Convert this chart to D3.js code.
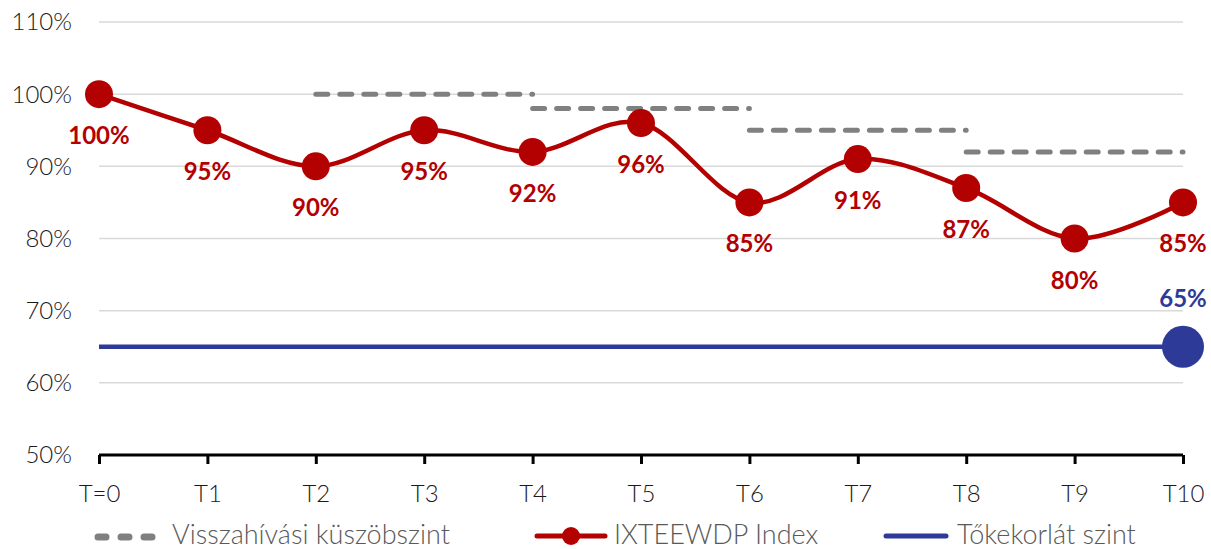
<!DOCTYPE html>
<html>
<head>
<meta charset="utf-8">
<script src="https://cdn.jsdelivr.net/npm/d3@7"></script>
<style>
  body { margin: 0; background: #fff; }
  text { font-family: Lato, "Open Sans", sans-serif; }
</style>
</head>
<body>
<svg width="1211" height="549"></svg>
<script>
// data
var periods = ["T=0", "T1", "T2", "T3", "T4", "T5", "T6", "T7", "T8", "T9", "T10"];
var indexValues = [100, 95, 90, 95, 92, 96, 85, 91, 87, 80, 85];
var callStart = ["T2", "T4", "T6", "T8"];
var callEnd = ["T4", "T6", "T8", "T10"];
var callLevels = [100, 98, 95, 92];
var barrierLevel = 65;
var yTicks = [50, 60, 70, 80, 90, 100, 110];

var red = "#b30000", blue = "#2e3a97", grey = "#808080";

var svg = d3.select("svg");

var x = d3.scalePoint().domain(periods).range([99, 1183]);
var y = d3.scaleLinear().domain([50, 110]).range([455, 22]);

// gridlines
svg.append("g")
  .selectAll("line")
  .data(yTicks.slice(1))
  .join("line")
  .attr("x1", 99).attr("x2", 1183)
  .attr("y1", function(d) { return y(d); })
  .attr("y2", function(d) { return y(d); })
  .attr("stroke", "#d9d9d9")
  .attr("stroke-width", 1.5);

// y labels
svg.append("g")
  .selectAll("text")
  .data(yTicks)
  .join("text")
  .attr("x", 72)
  .attr("y", function(d) { return y(d); })
  .attr("dy", "0.35em")
  .attr("text-anchor", "end")
  .attr("font-size", 24)
  .attr("font-weight", 300)
  .attr("fill", "#1a1a1a")
  .text(function(d) { return d + "%"; });

// x axis
var xAxis = svg.append("g")
  .attr("transform", "translate(0," + y(50) + ")")
  .call(d3.axisBottom(x).tickSize(9));
xAxis.select(".domain").attr("stroke", "#000").attr("stroke-width", 3).attr("d", "M99,0H1183");
xAxis.selectAll(".tick line").attr("stroke", "#000").attr("stroke-width", 3);
xAxis.selectAll(".tick text")
  .attr("y", 47)
  .attr("dy", 0)
  .attr("font-size", 24)
  .attr("font-weight", 300)
  .attr("fill", "#1a1a1a")
  .style("font-family", "Lato, 'Open Sans', sans-serif");

// call threshold dashes
svg.append("g")
  .selectAll("line")
  .data(callLevels)
  .join("line")
  .attr("x1", function(d, i) { return x(callStart[i]); })
  .attr("x2", function(d, i) { return x(callEnd[i]); })
  .attr("y1", function(d) { return y(d); })
  .attr("y2", function(d) { return y(d); })
  .attr("stroke", grey)
  .attr("stroke-width", 5)
  .attr("stroke-linecap", "round")
  .attr("stroke-dasharray", "12,12");

// barrier line
svg.append("line")
  .attr("x1", x("T=0")).attr("x2", x("T10"))
  .attr("y1", y(barrierLevel)).attr("y2", y(barrierLevel))
  .attr("stroke", blue)
  .attr("stroke-width", 4.5);

svg.append("circle")
  .attr("cx", x("T10"))
  .attr("cy", y(barrierLevel))
  .attr("r", 21)
  .attr("fill", blue);

svg.append("text")
  .attr("x", x("T10"))
  .attr("y", y(barrierLevel) - 40)
  .attr("text-anchor", "middle")
  .attr("font-size", 24)
  .attr("font-weight", 700)
  .attr("fill", blue)
  .text(barrierLevel + "%");

// index line
var line = d3.line()
  .x(function(d, i) { return x(periods[i]); })
  .y(function(d) { return y(d); })
  .curve(d3.curveCardinal.tension(0));

svg.append("path")
  .datum(indexValues)
  .attr("fill", "none")
  .attr("stroke", red)
  .attr("stroke-width", 4.5)
  .attr("d", line);

svg.append("g")
  .selectAll("circle")
  .data(indexValues)
  .join("circle")
  .attr("cx", function(d, i) { return x(periods[i]); })
  .attr("cy", function(d) { return y(d); })
  .attr("r", 14)
  .attr("fill", red);

svg.append("g")
  .selectAll("text")
  .data(indexValues)
  .join("text")
  .attr("x", function(d, i) { return x(periods[i]); })
  .attr("y", function(d) { return y(d) + 50; })
  .attr("text-anchor", "middle")
  .attr("font-size", 24)
  .attr("font-weight", 700)
  .attr("fill", red)
  .text(function(d) { return d + "%"; });

// legend
var leg = svg.append("g").attr("font-size", 27).attr("font-weight", 300).attr("fill", "#595959");
leg.append("line")
  .attr("x1", 98).attr("x2", 160).attr("y1", 537).attr("y2", 537)
  .attr("stroke", grey).attr("stroke-width", 7)
  .attr("stroke-linecap", "round").attr("stroke-dasharray", "8,15");
leg.append("text").attr("x", 172).attr("y", 535).attr("dy", "0.35em").text("Visszahívási küszöbszint");

leg.append("line")
  .attr("x1", 537).attr("x2", 605).attr("y1", 536).attr("y2", 536)
  .attr("stroke", red).attr("stroke-width", 5).attr("stroke-linecap", "round");
leg.append("circle").attr("cx", 571).attr("cy", 536).attr("r", 9).attr("fill", red);
leg.append("text").attr("x", 614).attr("y", 535).attr("dy", "0.35em").text("IXTEEWDP Index");

leg.append("line")
  .attr("x1", 886).attr("x2", 946).attr("y1", 536).attr("y2", 536)
  .attr("stroke", blue).attr("stroke-width", 5).attr("stroke-linecap", "round");
leg.append("text").attr("x", 957).attr("y", 535).attr("dy", "0.35em").text("Tőkekorlát szint");
</script>
</body>
</html>
